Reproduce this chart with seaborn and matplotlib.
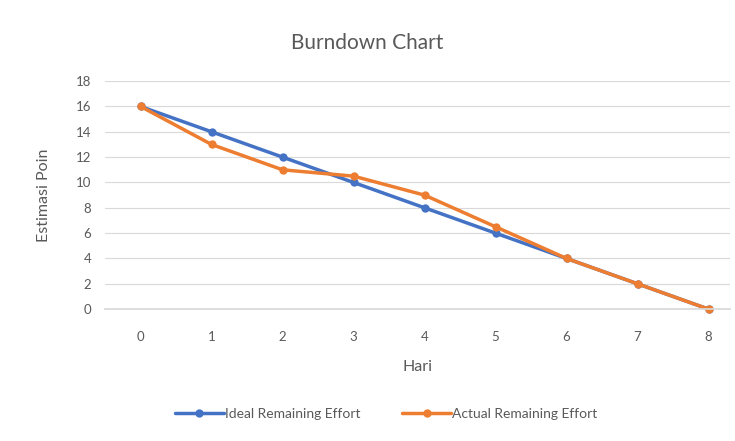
import pandas as pd
import matplotlib
matplotlib.use("Agg")
import matplotlib.pyplot as plt
import seaborn as sns

hari = [0, 1, 2, 3, 4, 5, 6, 7, 8]
ideal = [16, 14, 12, 10, 8, 6, 4, 2, 0]
actual = [16, 13, 11, 10.5, 9, 6.5, 4, 2, 0]
seri = ["Ideal Remaining Effort", "Actual Remaining Effort"]
warna = ["#4472C4", "#ED7D31"]

sns.set_theme(style="white")
plt.rcParams["font.family"] = ["Lato", "DejaVu Sans"]

df = pd.DataFrame({
    "Hari": hari * 2,
    "Nilai": ideal + actual,
    "Seri": [seri[0]] * len(hari) + [seri[1]] * len(hari),
})

fig = plt.figure(figsize=(7.35, 4.41), dpi=100)
ax = fig.add_axes([0.143, 0.299, 0.85, 0.517])

sns.lineplot(data=df, x="Hari", y="Nilai", hue="Seri", palette=warna,
             marker="o", markersize=6, markeredgewidth=0, linewidth=2.5,
             ax=ax, legend=True, clip_on=False)

teks = "#595959"
ax.set_xlim(-0.5, 8.3)
ax.set_ylim(0, 18)
ax.set_yticks(range(0, 19, 2))
ax.set_xticks(hari)
ax.grid(axis="y", color="#D9D9D9", linewidth=0.8)
ax.set_axisbelow(True)
for s in ["top", "right", "left"]:
    ax.spines[s].set_visible(False)
ax.spines["bottom"].set_color("#D9D9D9")
ax.tick_params(axis="x", length=0, labelsize=9.5, colors=teks, pad=16)
ax.tick_params(axis="y", length=0, labelsize=9.5, colors=teks, pad=10)
ax.set_xlabel("Hari", fontsize=11.5, color=teks, labelpad=12)
ax.set_ylabel("Estimasi Poin", fontsize=11.5, color=teks, labelpad=18)
fig.suptitle("Burndown Chart", y=0.925, fontsize=15, color=teks)

leg = ax.legend(loc="upper center", bbox_to_anchor=(0.45, -0.38), ncol=2,
                frameon=False, fontsize=10, handlelength=3.5, columnspacing=3,
                handletextpad=0.1)
for t in leg.get_texts():
    t.set_color(teks)

fig.savefig("out.png", dpi=100)
